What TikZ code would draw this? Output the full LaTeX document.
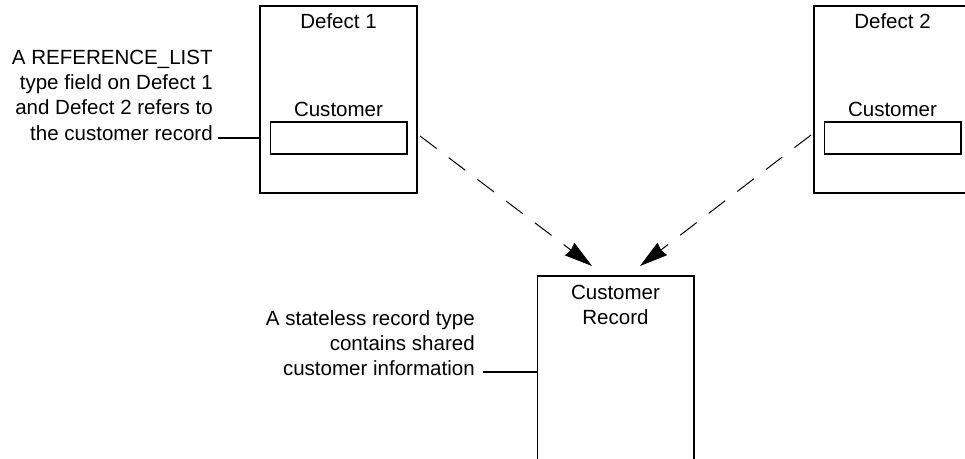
\documentclass[tikz,border=0pt]{standalone}
\usepackage{fontspec}
\setmainfont{Liberation Sans}
\usetikzlibrary{arrows.meta,positioning}

\begin{document}
\begin{tikzpicture}[x=0.025cm, y=-0.025cm,
      font=\fontsize{14.6}{18}\selectfont,
      recbox/.style={draw, line width=1.4pt, minimum width=3.925cm, minimum height=4.675cm},
      fieldbox/.style={draw, line width=1.4pt, minimum width=3.4cm, minimum height=0.8cm},
      note/.style={align=right, inner sep=0pt, anchor=east},
      leader/.style={line width=1.4pt},
      ref/.style={->, line width=0.7pt, dash pattern=on 5.2mm off 3.8mm},
      >={Stealth[length=7mm, width=3.9mm, inset=0.4mm]}]
    \useasboundingbox (0,0) rectangle (965,459);
    % the two defect records with their reference field
    \foreach \i/\x in {1/338.5,2/892.5} {
      \node[recbox] (d\i) at (\x,99.5) {};
      \node (t\i) at (\x,21) {Defect \i};
      \node[fieldbox] (f\i) at (\x,138) {};
      \node (c\i) at (\x,109) {Customer};
    }
    % the shared record
    \node[recbox, minimum width=3.9cm, minimum height=5.1cm] (cr) at (615.5,378) {};
    \node[align=center] (crt) at (615.5,305) {Customer\\Record};
    % notes
    \node[note] (n1) at (213,95) {A REFERENCE\_LIST\\type field on Defect 1\\and Defect 2 refers to\\the customer record};
    \node[note] (n2) at (475,343) {A stateless record type\\contains shared\\customer information};
    \coordinate (e1) at (218,138);
    \coordinate (e2) at (483,372);
    \draw[leader] (e1) -- (e1 -| d1.west);
    \draw[leader] (e2) -- (e2 -| cr.west);
    \draw[ref] ([shift={(2,-2)}]d1.east |- f1) -- ([shift={(-23.5,-9)}]cr.north);
    \draw[ref] ([shift={(-2,-3)}]d2.west |- f2) -- ([shift={(24.5,-9)}]cr.north);
  \end{tikzpicture}
\end{document}
